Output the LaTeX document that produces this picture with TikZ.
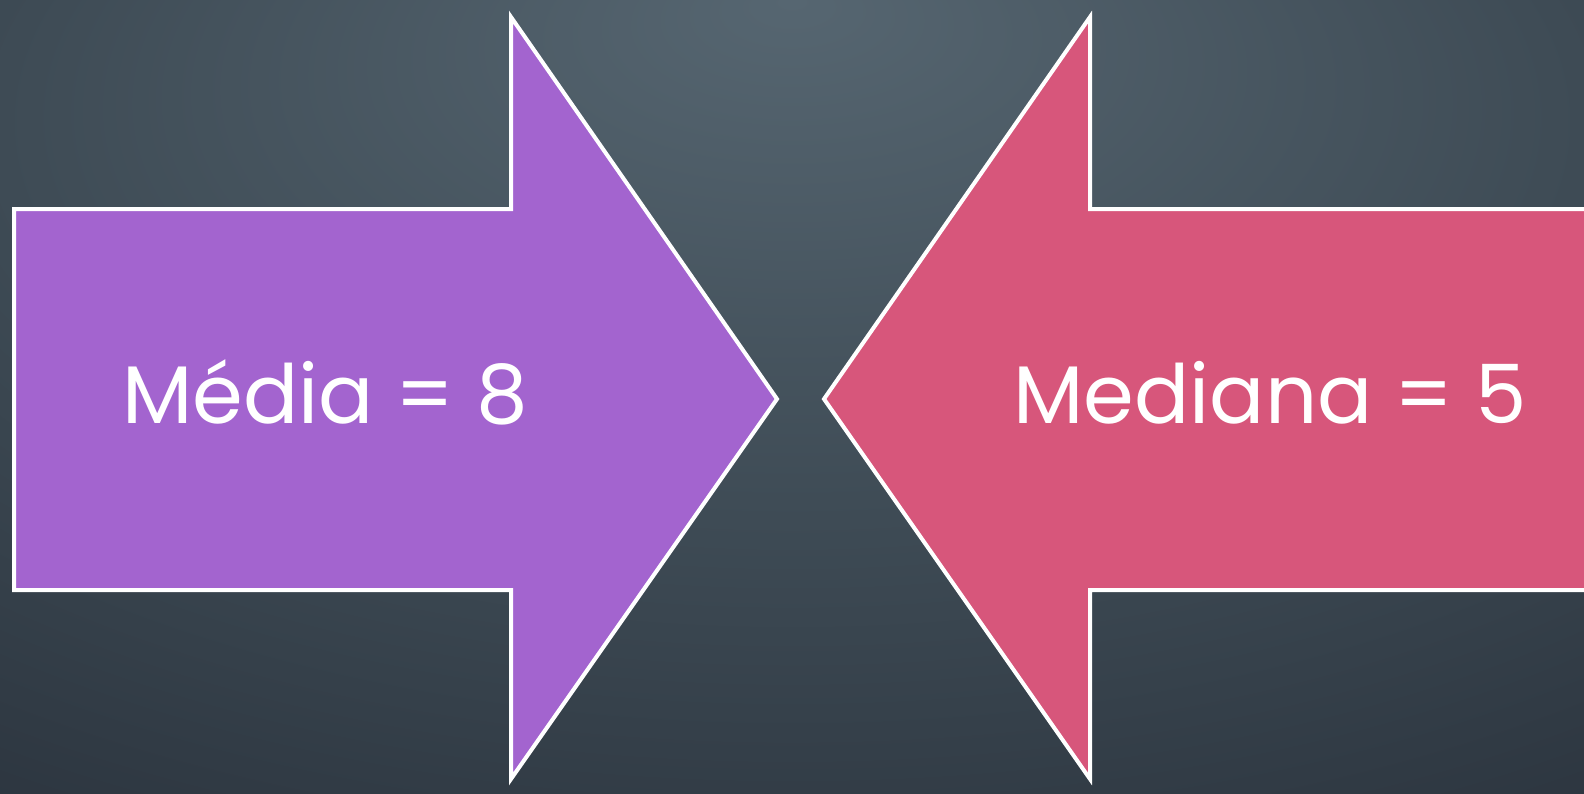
\documentclass[tikz,border=0pt]{standalone}
\usepackage{fontspec}
\setmainfont{Poppins}
\definecolor{arrowpurple}{RGB}{163,100,207}
\definecolor{arrowpink}{RGB}{215,86,123}
\definecolor{bgA}{RGB}{86,102,113}
\definecolor{bgB}{RGB}{62,75,85}
\definecolor{bgC}{RGB}{40,48,58}
\definecolor{bgD}{RGB}{30,35,43}
\pgfdeclareradialshading{bgshade}{\pgfpoint{0bp}{25bp}}{color(0bp)=(bgA); color(25bp)=(bgB); color(50bp)=(bgC); color(56bp)=(bgD); color(80bp)=(bgD)}
\tikzset{
  arrowline/.style={draw=white, line width=4bp, line join=miter},
  label/.style={text=white, font=\fontsize{82}{88}\selectfont, inner sep=0pt, anchor=base}
}
\begin{document}
\begin{tikzpicture}[x=1bp,y=-1bp]
\useasboundingbox (0,0) rectangle (1584,793);
\shade[shading=bgshade] (0,0) rectangle (1584,793);
\fill[arrowpurple] (14,209) -- (511,209) -- (511,17) -- (777,399) -- (511,779) -- (511,590) -- (14,590) -- cycle;
\draw[arrowline] (14,209) -- (511,209) -- (511,17) -- (777,399) -- (511,779) -- (511,590) -- (14,590) -- cycle;
\fill[arrowpink] (1584,209) -- (1090,209) -- (1090,17) -- (824,399) -- (1090,779) -- (1090,590) -- (1584,590) -- cycle;
\draw[arrowline] (1584,209) -- (1090,209) -- (1090,17) -- (824,399) -- (1090,779) -- (1090,590) -- (1584,590);
\node[label] (media) at (325,423) {Média = 8};
\node[label] (mediana) at (1270,423) {Mediana = 5};
\end{tikzpicture}
\end{document}
